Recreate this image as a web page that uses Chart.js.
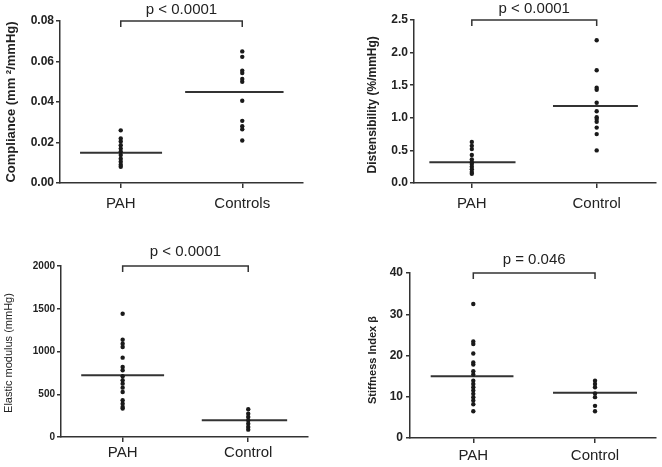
<!DOCTYPE html>
<html>
<head>
<meta charset="utf-8">
<script src="https://cdn.jsdelivr.net/npm/chart.js@4.4.0/dist/chart.umd.min.js"></script>
<style>
  html, body { margin: 0; padding: 0; background: #fff; }
  #wrap { position: relative; width: 662px; height: 467px; }
  #wrap canvas { position: absolute; }
</style>
</head>
<body>
<div id="wrap">
  <canvas id="c1" width="331" height="234" style="left:0;top:0"></canvas>
  <canvas id="c2" width="331" height="234" style="left:331px;top:0"></canvas>
  <canvas id="c3" width="331" height="233" style="left:0;top:234px"></canvas>
  <canvas id="c4" width="331" height="233" style="left:331px;top:234px"></canvas>
</div>
<script>
// groups
const groupsA = ["PAH", "Controls"];
const groupsB = ["PAH", "Control"];

// compliance
const compliancePAH = [0.026, 0.022, 0.0205, 0.0187, 0.017, 0.0155, 0.0138, 0.012, 0.0105, 0.009, 0.008];
const complianceCtrl = [0.065, 0.0623, 0.0555, 0.0543, 0.0514, 0.050, 0.0406, 0.0307, 0.028, 0.0265, 0.021];
const complianceMedian = [0.015, 0.045];
const complianceTicks = [0, 0.02, 0.04, 0.06, 0.08];
const complianceTickLabels = ["0.00", "0.02", "0.04", "0.06", "0.08"];

// distensibility
const distPAH = [0.63, 0.57, 0.52, 0.43, 0.36, 0.32, 0.29, 0.25, 0.21, 0.17, 0.14];
const distCtrl = [2.19, 1.73, 1.46, 1.43, 1.23, 1.10, 1.01, 0.98, 0.94, 0.85, 0.75, 0.50];
const distMedian = [0.32, 1.18];
const distTicks = [0, 0.5, 1, 1.5, 2, 2.5];
const distTickLabels = ["0.0", "0.5", "1.0", "1.5", "2.0", "2.5"];

// elastic modulus
const elasticPAH = [1442, 1138, 1092, 1053, 928, 819, 780, 710, 663, 624, 577, 526, 429, 390, 351, 332];
const elasticCtrl = [324, 273, 234, 195, 156, 117, 86];
const elasticMedian = [721, 195];
const elasticTicks = [0, 500, 1000, 1500, 2000];
const elasticTickLabels = ["0", "500", "1000", "1500", "2000"];

// stiffness index
const stiffPAH = [32.5, 23.4, 22.8, 20.5, 18.3, 17.8, 16.2, 15.4, 13.9, 13.1, 12.3, 11.5, 10.7, 9.9, 9.1, 8.2, 6.5];
const stiffCtrl = [13.9, 13.1, 12.3, 10.8, 9.9, 7.8, 6.5];
const stiffMedian = [15.0, 11.0];
const stiffTicks = [0, 10, 20, 30, 40];
const stiffTickLabels = ["0", "10", "20", "30", "40"];

const pLabels = ["p < 0.0001", "p < 0.0001", "p < 0.0001", "p = 0.046"];
const yTitles = ["Compliance (mm \u00B2/mmHg)", "Distensibility (%/mmHg)", "Elastic modulus (mmHg)", "Stiffness Index \u03B2"];

Chart.defaults.font.family = "'Liberation Sans', Arial, sans-serif";
Chart.defaults.color = "#222";

const ink = "#222";
const axisColor = "#333";

// bracket + p value above the two groups
const bracketPlugin = {
  id: "bracket",
  afterDraw(chart, args, opts) {
    const ctx = chart.ctx;
    const xs = chart.scales.x;
    const top = chart.chartArea.top;
    const x1 = xs.getPixelForValue(1);
    const x2 = xs.getPixelForValue(2);
    ctx.save();
    ctx.strokeStyle = axisColor;
    ctx.lineWidth = 1.5;
    ctx.beginPath();
    ctx.moveTo(x1, top + opts.drop);
    ctx.lineTo(x1, top);
    ctx.lineTo(x2, top);
    ctx.lineTo(x2, top + opts.drop);
    ctx.stroke();
    ctx.fillStyle = ink;
    ctx.font = "15px 'Liberation Sans', Arial, sans-serif";
    ctx.textAlign = "center";
    ctx.textBaseline = "middle";
    ctx.fillText(opts.text, (x1 + x2) / 2, top - opts.lift);
    ctx.restore();
  }
};

function makePanel(id, p) {
  const pts = [];
  p.a.forEach(v => pts.push({ x: 1, y: v }));
  p.b.forEach(v => pts.push({ x: 2, y: v }));
  const medA = [{ x: 1 - p.hw[0][0], y: p.med[0] }, { x: 1 + p.hw[0][1], y: p.med[0] }];
  const medB = [{ x: 2 - p.hw[1][0], y: p.med[1] }, { x: 2 + p.hw[1][1], y: p.med[1] }];
  const lineDs = d => ({
    type: "line", data: d, borderColor: axisColor, borderWidth: 2,
    pointRadius: 0, showLine: true, fill: false
  });

  new Chart(document.getElementById(id), {
    type: "scatter",
    data: {
      datasets: [
        { data: pts, backgroundColor: "#1a1a1a", borderWidth: 0, pointRadius: 2.2 },
        lineDs(medA),
        lineDs(medB)
      ]
    },
    options: {
      responsive: false,
      animation: false,
      layout: { padding: { top: p.padTop, right: p.padRight, left: 0, bottom: 0 } },
      plugins: {
        legend: { display: false },
        tooltip: { enabled: false },
        bracket: { text: p.pText, drop: 6, lift: p.lift }
      },
      scales: {
        x: {
          type: "linear",
          min: p.xr[0], max: p.xr[1],
          afterBuildTicks: s => { s.ticks = [{ value: 1 }, { value: 2 }]; },
          afterFit: s => { s.height = p.xh; },
          ticks: {
            callback: v => p.groups[v - 1],
            font: { size: 15 }, color: ink, padding: p.xPad, maxRotation: 0
          },
          grid: { drawOnChartArea: false, drawTicks: true, tickLength: 5, color: axisColor, lineWidth: 1.5 },
          border: { display: true, color: axisColor, width: 1.5 }
        },
        y: {
          min: p.ticks[0], max: p.ticks[p.ticks.length - 1],
          afterBuildTicks: s => { s.ticks = p.ticks.map(v => ({ value: v })); },
          afterFit: s => { s.width = p.yw; },
          ticks: {
            callback: (v, i) => p.tickLabels[i],
            font: { size: p.tickSize, weight: "bold" }, color: ink, padding: p.yPad
          },
          grid: { drawOnChartArea: false, drawTicks: true, tickLength: 4, color: axisColor, lineWidth: 1.5 },
          border: { display: true, color: axisColor, width: 1.5 },
          title: {
            display: true, text: p.title + p.titleShift, color: ink,
            font: { size: p.titleSize, weight: p.titleWeight },
            padding: { top: p.titlePad, bottom: 0 }
          }
        }
      }
    },
    plugins: [bracketPlugin]
  });
}

makePanel("c1", {
  a: compliancePAH, b: complianceCtrl, med: complianceMedian, groups: groupsA,
  ticks: complianceTicks, tickLabels: complianceTickLabels, pText: pLabels[0], title: yTitles[0],
  hw: [[0.335, 0.34], [0.47, 0.34]], xr: [0.5, 2.5],
  padTop: 21, padRight: 28, xh: 51, yw: 60, xPad: 7, yPad: 2, lift: 11,
  tickSize: 12, titleSize: 13, titleWeight: "bold", titlePad: 4, titleShift: ""
});

makePanel("c2", {
  a: distPAH, b: distCtrl, med: distMedian, groups: groupsB,
  ticks: distTicks, tickLabels: distTickLabels, pText: pLabels[1], title: yTitles[1],
  hw: [[0.34, 0.35], [0.35, 0.33]], xr: [0.537, 2.475],
  padTop: 20, padRight: 6, xh: 51, yw: 83, xPad: 7, yPad: 2, lift: 11,
  tickSize: 12, titleSize: 12, titleWeight: "bold", titlePad: 34, titleShift: "  "
});

makePanel("c3", {
  a: elasticPAH, b: elasticCtrl, med: elasticMedian, groups: groupsB,
  ticks: elasticTicks, tickLabels: elasticTickLabels, pText: pLabels[2], title: yTitles[2],
  hw: [[0.33, 0.33], [0.37, 0.31]], xr: [0.509, 2.476],
  padTop: 32, padRight: 23, xh: 30, yw: 61, xPad: 2, yPad: 2, lift: 14,
  tickSize: 10, titleSize: 11, titleWeight: "normal", titlePad: 2, titleShift: " "
});

makePanel("c4", {
  a: stiffPAH, b: stiffCtrl, med: stiffMedian, groups: groupsB,
  ticks: stiffTicks, tickLabels: stiffTickLabels, pText: pLabels[3], title: yTitles[3],
  hw: [[0.35, 0.33], [0.345, 0.345]], xr: [0.48, 2.501],
  padTop: 39, padRight: 6, xh: 29, yw: 79, xPad: 4, yPad: 3, lift: 13,
  tickSize: 12, titleSize: 11, titleWeight: "bold", titlePad: 35, titleShift: "   "
});
</script>
</body>
</html>
